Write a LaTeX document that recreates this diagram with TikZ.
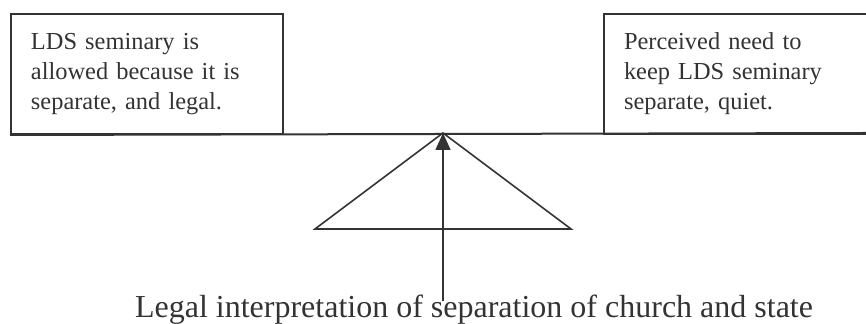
\documentclass[tikz,border=0pt]{standalone}
\usepackage{fontspec}
\setmainfont{Liberation Serif}
\usetikzlibrary{arrows.meta}

\begin{document}
\begin{tikzpicture}[
  x=0.5pt, y=-0.5pt,
  every node/.style={font=\fontsize{12.2}{15}\selectfont, text=black!80},
  side box/.style={rectangle, draw=black!80, line width=1pt, anchor=north west,
    minimum height=60pt, text width=116pt, inner xsep=10pt, inner ysep=0pt, align=left},
  beam/.style={draw=black!80, line width=1pt},
  fulcrum/.style={draw=black!80, line width=0.8pt, line join=miter},
  push/.style={draw=black!80, line width=0.8pt, -{Triangle[length=8.5pt, width=7.5pt]}}
]
\useasboundingbox (0,0) rectangle (866,324);

% Boxes on the beam
\node[side box] (allowed) at (10,13) {LDS seminary is\\ allowed because it is\\ separate, and legal.};
\node[side box, text width=140pt] (perceived) at (603,13) {Perceived need to\\ keep LDS seminary\\ separate, quiet.};

% Beam across the picture
\coordinate (beam end) at (866,133);
\draw[beam] (allowed.south west) -- (beam end);

% Fulcrum
\coordinate (apex) at (443,133);
\coordinate (base left) at (315,229);
\coordinate (base right) at (571,229);
\draw[fulcrum] (base left) -- (apex) -- (base right) -- cycle;

% Label and arrow
\node[font=\fontsize{16}{18}\selectfont, anchor=base, inner ysep=0pt] (legal) at (474,318)
  {Legal interpretation of separation of church and state};
\draw[push] ([yshift=-3pt]apex |- legal.north) -- (apex);

\end{tikzpicture}
\end{document}
